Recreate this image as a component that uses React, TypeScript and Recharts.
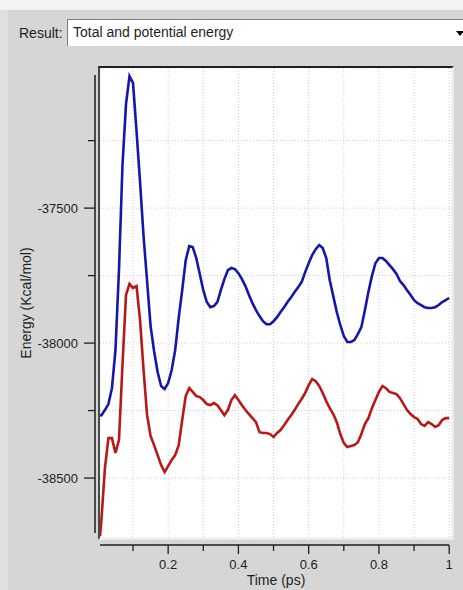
import React from 'react'
import { LineChart, Line, XAxis, YAxis, CartesianGrid, Label } from 'recharts'

// sample times in ps
const times = [
  0.006, 0.01, 0.02, 0.03, 0.04, 0.05, 0.06, 0.07, 0.08, 0.09, 0.1,
  0.11, 0.12, 0.13, 0.14, 0.15, 0.16, 0.17, 0.18, 0.19, 0.2,
  0.21, 0.22, 0.23, 0.24, 0.25, 0.26, 0.27, 0.28, 0.29, 0.3,
  0.31, 0.32, 0.33, 0.34, 0.35, 0.36, 0.37, 0.38, 0.39, 0.4,
  0.41, 0.42, 0.43, 0.44, 0.45, 0.46, 0.47, 0.48, 0.49, 0.5,
  0.51, 0.52, 0.53, 0.54, 0.55, 0.56, 0.57, 0.58, 0.59, 0.6,
  0.61, 0.62, 0.63, 0.64, 0.65, 0.66, 0.67, 0.68, 0.69, 0.7,
  0.71, 0.72, 0.73, 0.74, 0.75, 0.76, 0.77, 0.78, 0.79, 0.8,
  0.81, 0.82, 0.83, 0.84, 0.85, 0.86, 0.87, 0.88, 0.89, 0.9,
  0.91, 0.92, 0.93, 0.94, 0.95, 0.96, 0.97, 0.98, 0.99, 1,
]

// total energy, Kcal/mol
const totalEnergy = [
  -38270, -38267, -38248, -38226, -38167, -38026, -37730, -37341, -37115, -37011, -37037,
  -37215, -37404, -37604, -37770, -37937, -38030, -38107, -38159, -38170, -38148,
  -38100, -38026, -37907, -37804, -37693, -37641, -37644, -37685, -37744, -37804,
  -37848, -37867, -37863, -37848, -37804, -37763, -37730, -37722, -37726, -37741,
  -37763, -37789, -37822, -37852, -37878, -37900, -37919, -37930, -37930, -37919,
  -37904, -37885, -37867, -37848, -37830, -37811, -37793, -37774, -37737, -37704,
  -37674, -37652, -37637, -37648, -37685, -37767, -37826, -37885, -37933, -37974,
  -37996, -37996, -37989, -37967, -37941, -37878, -37811, -37752, -37704, -37685,
  -37685, -37696, -37711, -37726, -37744, -37770, -37785, -37804, -37822, -37841,
  -37852, -37859, -37867, -37870, -37870, -37867, -37859, -37848, -37841, -37833,
]

// potential energy, Kcal/mol
const potentialEnergy = [
  -38715, -38656, -38463, -38352, -38352, -38407, -38359, -38081, -37822, -37781, -37796,
  -37789, -37915, -38100, -38267, -38344, -38378, -38415, -38452, -38478, -38456,
  -38433, -38415, -38378, -38285, -38196, -38167, -38181, -38196, -38200, -38211,
  -38226, -38230, -38222, -38230, -38248, -38267, -38248, -38211, -38193, -38211,
  -38230, -38248, -38263, -38278, -38293, -38330, -38333, -38333, -38337, -38348,
  -38333, -38322, -38304, -38285, -38267, -38248, -38226, -38207, -38185, -38156,
  -38133, -38141, -38159, -38185, -38215, -38241, -38263, -38293, -38337, -38370,
  -38385, -38381, -38378, -38367, -38337, -38300, -38278, -38241, -38211, -38181,
  -38159, -38167, -38181, -38185, -38189, -38204, -38226, -38248, -38263, -38274,
  -38281, -38300, -38307, -38293, -38300, -38311, -38304, -38285, -38278, -38278,
]

const timeTicks = [0.1, 0.2, 0.3, 0.4, 0.5, 0.6, 0.7, 0.8, 0.9, 1]
const labeledTimes = [0.2, 0.4, 0.6, 0.8, 1]
const energyTicks = [-37250, -37500, -37750, -38000, -38250, -38500]
const labeledEnergies = [-37500, -38000, -38500]

const data = times.map((t, i) => ({
  t,
  total: totalEnergy[i],
  potential: potentialEnergy[i],
}))

const FONT = '"Liberation Sans", Arial, Helvetica, sans-serif'
const INK = '#1e1e1e'

// x ticks hang below an axis line that sits 7px under the plot
function TimeTick(props: any) {
  const { x, y, payload } = props
  const major = labeledTimes.includes(payload.value)
  const ay = y + 7
  return (
    <g>
      <line x1={x} x2={x} y1={ay} y2={ay + (major ? 9 : 6)} stroke={INK} strokeWidth={1.3} />
      {major && (
        <text x={x} y={ay + 24} textAnchor="middle" fontSize={13} fontFamily={FONT} fill={INK}>
          {String(payload.value)}
        </text>
      )}
    </g>
  )
}

// y ticks sit left of an axis line 5px off the plot
function EnergyTick(props: any) {
  const { x, y, payload } = props
  const major = labeledEnergies.includes(payload.value)
  const ax = x - 5
  return (
    <g>
      <line x1={ax - (major ? 11 : 7)} x2={ax} y1={y} y2={y} stroke={INK} strokeWidth={1.3} />
      {major && (
        <text x={ax - 17} y={y} dy={4.6} textAnchor="end" fontSize={13} fontFamily={FONT} fill={INK}>
          {String(payload.value)}
        </text>
      )}
    </g>
  )
}

export default function App() {
  return (
    <div
      style={{
        position: 'fixed',
        left: 0,
        top: 0,
        width: 463,
        height: 590,
        overflow: 'hidden',
        background: '#d6d6d6',
        fontFamily: FONT,
      }}
    >
      <div style={{ position: 'absolute', left: 0, top: 0, width: 463, height: 10, background: '#f3f3f3' }} />
      <div style={{ position: 'absolute', left: 0, top: 10, width: 8, height: 580, background: '#dfdfdf' }} />

      <div style={{ position: 'absolute', left: 19, top: 24, fontSize: 14, color: INK, lineHeight: '18px' }}>
        Result:
      </div>
      <div
        style={{
          position: 'absolute',
          left: 67,
          top: 19,
          width: 420,
          height: 27,
          boxSizing: 'border-box',
          background: '#ffffff',
          borderTop: '1px solid #7c7c7c',
          borderLeft: '1px solid #7c7c7c',
          fontSize: 14,
          lineHeight: '25px',
          paddingLeft: 5,
          color: INK,
        }}
      >
        Total and potential energy
      </div>
      <div
        style={{
          position: 'absolute',
          left: 456,
          top: 31,
          width: 0,
          height: 0,
          borderLeft: '4px solid transparent',
          borderRight: '4px solid transparent',
          borderTop: '5px solid #000',
        }}
      />

      <div style={{ position: 'absolute', left: 0, top: 0 }}>
        <LineChart
          width={463}
          height={590}
          data={data}
          margin={{ top: 68, right: 11, bottom: 0, left: 0 }}
        >
          <CartesianGrid fill="#ffffff" stroke="#cdcdcd" strokeDasharray="1 2" />
          <XAxis
            dataKey="t"
            type="number"
            domain={[0.006, 1.008]}
            ticks={timeTicks}
            interval={0}
            height={52}
            tickSize={0}
            tickMargin={0}
            tickLine={false}
            axisLine={{
              stroke: INK,
              strokeWidth: 1.5,
              strokeDasharray: '349 40',
              transform: 'translate(0 7)',
            }}
            tick={<TimeTick />}
            allowDataOverflow
          >
            <Label value="Time (ps)" position="insideBottom" offset={5} fontSize={14} fontFamily={FONT} fill={INK} />
          </XAxis>
          <YAxis
            type="number"
            domain={[-38722, -36981]}
            ticks={energyTicks}
            interval={0}
            width={100}
            tickSize={0}
            tickMargin={0}
            tickLine={false}
            axisLine={{
              stroke: INK,
              strokeWidth: 1.5,
              strokeDasharray: '0 7 458 40',
              transform: 'translate(-5 0)',
            }}
            tick={<EnergyTick />}
            allowDataOverflow
          >
            <Label
              value="Energy (Kcal/mol)"
              angle={-90}
              position="insideLeft"
              offset={26}
              fontSize={14}
              fontFamily={FONT}
              fill={INK}
              style={{ textAnchor: 'middle' }}
            />
          </YAxis>
          <Line
            type="linear"
            dataKey="total"
            stroke="#1616a8"
            strokeWidth={2.6}
            dot={false}
            isAnimationActive={false}
          />
          <Line
            type="linear"
            dataKey="potential"
            stroke="#b81818"
            strokeWidth={2.6}
            dot={false}
            isAnimationActive={false}
          />
        </LineChart>
      </div>

      {/* sunken frame around the plot */}
      <div
        style={{
          position: 'absolute',
          left: 98,
          top: 66,
          width: 356,
          height: 474,
          boxSizing: 'border-box',
          borderTop: '2px solid #202020',
          borderLeft: '2px solid #4a4a4a',
          borderBottom: '2px solid #ececec',
          borderRight: '2px solid #ececec',
          pointerEvents: 'none',
        }}
      />
    </div>
  )
}
